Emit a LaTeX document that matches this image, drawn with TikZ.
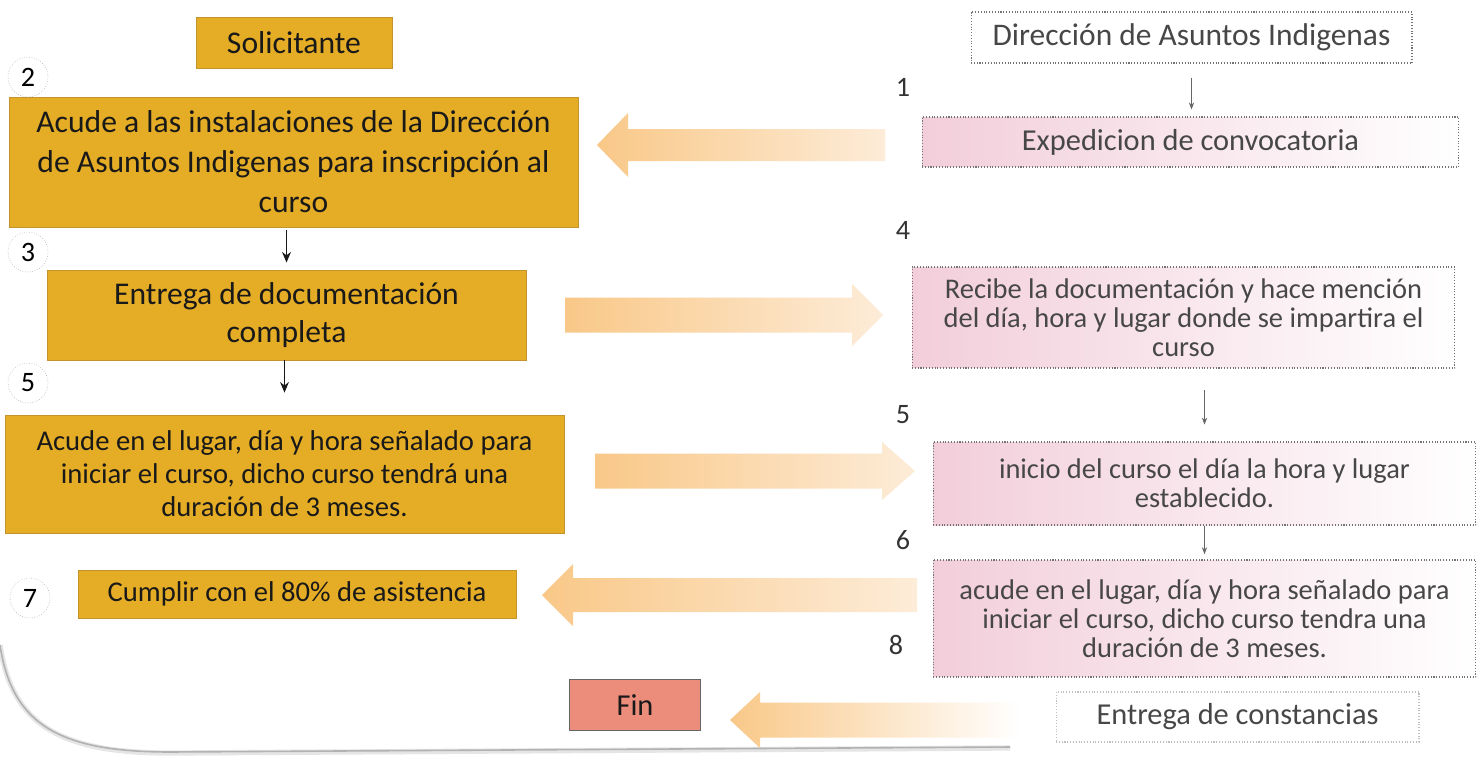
\documentclass[tikz,border=0pt]{standalone}
\usepackage{fontspec}
\setmainfont{Carlito}
\usepackage{tikz}
\usetikzlibrary{arrows.meta}
\definecolor{oro}{RGB}{229,173,38}
\definecolor{orobord}{RGB}{196,148,44}
\definecolor{rosa}{RGB}{242,206,218}
\definecolor{salmon}{RGB}{236,141,124}
\definecolor{durazno}{RGB}{249,200,136}
\definecolor{duraznoclaro}{RGB}{253,236,216}
% flecha ancha: [opciones]{punta}{base}{cola}{y}{medio cuerpo}{media punta}
\newcommand{\flecha}[7][]{%
  \shade[left color=durazno,right color=duraznoclaro,#1]
    (#2,#5) -- (#3,#5-#7) -- (#3,#5-#6) -- (#4,#5-#6) -- (#4,#5+#6)
    -- (#3,#5+#6) -- (#3,#5+#7) -- cycle;}
\tikzset{
  paso/.style={draw=orobord, fill=oro, line width=0.5pt, inner sep=0pt, align=center,
    text=black!90, font=\fontsize{18}{22.7}\selectfont},
  caja/.style={draw=black!55, densely dotted, line width=0.6pt, inner sep=0pt, align=center,
    text=black!72, font=\fontsize{16.2}{16.6}\selectfont},
  tramite/.style={caja, left color=rosa, right color=white},
  num/.style={circle, draw=black!25, densely dotted, fill=white, minimum size=0.8cm,
    inner sep=0pt, font=\fontsize{16}{16}\selectfont},
  numr/.style={font=\fontsize{16}{16}\selectfont, text=black!80},
  flechita/.style={-{Stealth[length=6pt,width=5pt]}, line width=1.1pt, black!90},
  flechagris/.style={-{Stealth[length=4pt,width=3pt]}, line width=0.5pt, black!60}
}

\begin{document}
\begin{tikzpicture}[x=0.02cm, y=-0.02cm]
  \useasboundingbox (0,0) rectangle (1477,761);
  \fill[white] (0,0) rectangle (1477,761);
  % borde de la hoja
  \draw[black!10, line width=3pt] (0,645) .. controls (12,725) and (60,753) .. (170,753) -- (1010,748);
  \draw[black!30, line width=0.9pt] (0,645) .. controls (12,725) and (60,752) .. (170,752) -- (1010,747);

  % flechas anchas
  \flecha{597}{628}{885}{145}{16}{32}
  \flecha{883}{852}{565}{315}{17.5}{31}
  \flecha{915}{882}{595}{471}{17.5}{29}
  \flecha{542}{573}{917}{595}{17}{31}
  \flecha[right color=white]{730}{760}{1020}{720}{17.5}{28}

  % solicitante
  \node[paso, minimum width=3.92cm, minimum height=1.02cm] (sol) at (294,42.5) {Solicitante};
  \node[paso, minimum width=11.38cm, minimum height=2.6cm] (acude) at (293.5,162)
    {Acude a las instalaciones de la Dirección\\de Asuntos Indigenas para inscripción al\\curso};
  \node[paso, minimum width=9.58cm, minimum height=1.8cm, font=\fontsize{18}{22}\selectfont] (entrega) at (286.5,315)
    {Entrega de documentación\\completa};
  \node[paso, minimum width=11.18cm, minimum height=2.36cm, font=\fontsize{16.3}{18.7}\selectfont] (lugar) at (284.5,474)
    {Acude en el lugar, día y hora señalado para\\iniciar el curso, dicho curso tendrá una\\duración de 3 meses.};
  \node[paso, minimum width=8.76cm, minimum height=0.96cm, font=\fontsize{16.3}{20}\selectfont] (cumplir) at (297,594)
    {Cumplir con el 80\% de asistencia};
  \node[paso, draw=black!60, fill=salmon, minimum width=2.62cm, minimum height=1.02cm,
    font=\fontsize{17.3}{20}\selectfont] (fin) at (635,705) {Fin};

  \node[num] (n2) at (28,77) {2};
  \node[num] (n3) at (28,252) {3};
  \node[num] (n5) at (28,383) {5};
  \node[num] (n7) at (30,598) {7};

  % direccion
  \node[caja, fill=white, minimum width=8.82cm, minimum height=1.02cm, font=\fontsize{17.9}{20}\selectfont] (dir) at (1191.5,37.5)
    {Dirección de Asuntos Indigenas};
  \node[tramite, minimum width=10.74cm, minimum height=1cm, font=\fontsize{17.3}{20}\selectfont] (exp) at (1190.5,142)
    {Expedicion de convocatoria};
  \node[tramite, minimum width=10.86cm, minimum height=2.02cm] (recibe) at (1183.5,317.5)
    {Recibe la documentación y hace mención\\del día, hora y lugar donde se impartira el\\curso};
  \node[tramite, minimum width=10.86cm, minimum height=1.66cm] (inicio) at (1204.5,483.5)
    {inicio del curso el día la hora y lugar\\establecido.};
  \node[tramite, minimum width=10.86cm, minimum height=2.34cm] (asiste) at (1204.5,618.5)
    {acude en el lugar, día y hora señalado para\\iniciar el curso, dicho curso tendra una\\duración de 3 meses.};
  \node[caja, draw=black!25, fill=white, minimum width=7.26cm, minimum height=1cm,
    font=\fontsize{17.3}{20}\selectfont] (const) at (1237.5,717) {Entrega de constancias};

  \node[numr] (m1) at (903,87) {1};
  \node[numr] (m4) at (903,230) {4};
  \node[numr] (m5) at (903,415) {5};
  \node[numr] (m6) at (903,540) {6};
  \node[numr] (m8) at (896,645) {8};

  % conectores
  \draw[flechita, shorten <=1.7pt, shorten >=4pt] (entrega.north |- acude.south) -- (entrega.north);
  \draw[flechita, shorten >=12.5pt] (lugar.north |- entrega.south) -- (lugar.north);
  \draw[flechagris, shorten <=8pt, shorten >=4pt] (dir.south) -- (dir.south |- exp.north);
  \draw[flechagris, shorten <=12.5pt, shorten >=9.6pt] (inicio.north |- recibe.south) -- (inicio.north);
  \draw[flechagris, shorten >=3pt] (asiste.north |- inicio.south) -- (asiste.north);
\end{tikzpicture}
\end{document}
